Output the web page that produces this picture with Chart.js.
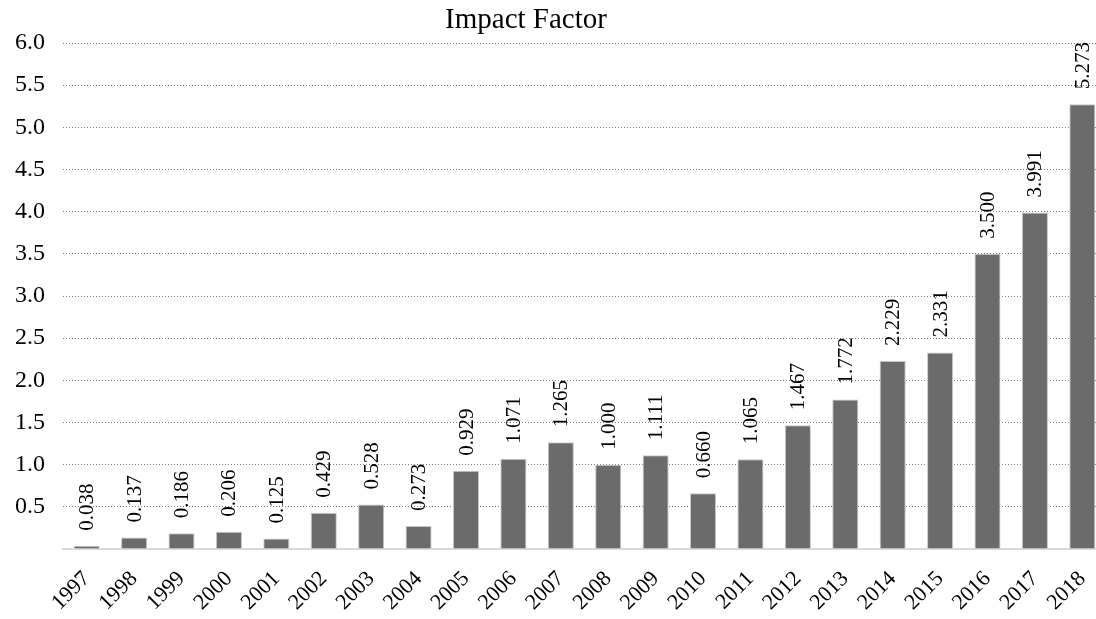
<!DOCTYPE html>
<html>
<head>
<meta charset="utf-8">
<title>Impact Factor</title>
<script src="https://cdn.jsdelivr.net/npm/chart.js@4/dist/chart.umd.min.js"></script>
<style>
  html, body { margin: 0; padding: 0; background: #ffffff; overflow: hidden; }
  #wrap { width: 1110px; height: 619px; position: relative; }
</style>
</head>
<body>
<div id="wrap"><canvas id="chart"></canvas></div>
<script>
// Journal impact factor by year
const years = ['1997','1998','1999','2000','2001','2002','2003','2004','2005','2006','2007',
               '2008','2009','2010','2011','2012','2013','2014','2015','2016','2017','2018'];
const impactFactor = [0.038, 0.137, 0.186, 0.206, 0.125, 0.429, 0.528, 0.273, 0.929, 1.071, 1.265,
                      1.000, 1.111, 0.660, 1.065, 1.467, 1.772, 2.229, 2.331, 3.500, 3.991, 5.273];
const yTicks = [0.5, 1.0, 1.5, 2.0, 2.5, 3.0, 3.5, 4.0, 4.5, 5.0, 5.5, 6.0];
const chartTitle = 'Impact Factor';

const SERIF = '"Liberation Serif", "Times New Roman", serif';

// Writes each value vertically just above its bar
const valueLabels = {
  id: 'valueLabels',
  afterDatasetsDraw(chart) {
    const ctx = chart.ctx;
    const meta = chart.getDatasetMeta(0);
    ctx.save();
    ctx.font = '21px ' + SERIF;
    ctx.fillStyle = '#000000';
    ctx.textAlign = 'left';
    ctx.textBaseline = 'middle';
    meta.data.forEach((bar, i) => {
      const v = chart.data.datasets[0].data[i];
      ctx.save();
      ctx.translate(bar.x, bar.y - 15);
      ctx.rotate(-Math.PI / 2);
      ctx.fillText(v.toFixed(3), 0, 1);
      ctx.restore();
    });
    ctx.restore();
  }
};

// Chart heading, centred a little left of the plot centre
const heading = {
  id: 'heading',
  afterDraw(chart) {
    const ctx = chart.ctx;
    ctx.save();
    ctx.font = '29px ' + SERIF;
    ctx.fillStyle = '#000000';
    ctx.textAlign = 'center';
    ctx.textBaseline = 'alphabetic';
    ctx.fillText(chartTitle, 526, 28);
    ctx.restore();
  }
};

new Chart(document.getElementById('chart'), {
  type: 'bar',
  data: {
    labels: years,
    datasets: [{
      label: chartTitle,
      data: impactFactor,
      backgroundColor: '#6b6b6b',
      borderColor: '#c8c8c8',
      borderWidth: 1,
      barPercentage: 0.55,
      categoryPercentage: 1.0
    }]
  },
  options: {
    responsive: true,
    maintainAspectRatio: false,
    animation: false,
    layout: { padding: { top: 43, right: 0, bottom: 0, left: 0 } },
    plugins: {
      legend: { display: false },
      tooltip: { enabled: false },
      title: { display: false }
    },
    scales: {
      x: {
        grid: { display: false },
        border: { color: '#d9d9d9', width: 2 },
        ticks: {
          color: '#000000',
          font: { family: SERIF, size: 22 },
          minRotation: 45,
          maxRotation: 45,
          padding: 9
        },
        afterFit(scale) { scale.height = 70; }
      },
      y: {
        min: 0,
        max: 6,
        border: { display: false, dash: [1, 2] },
        grid: {
          color: (c) => (c.tick && c.tick.value === 0) ? 'rgba(0,0,0,0)' : '#7f7f7f',
          lineWidth: 1,
          drawTicks: false
        },
        afterBuildTicks(scale) {
          scale.ticks = [0].concat(yTicks).map(v => ({ value: v }));
        },
        ticks: {
          color: '#000000',
          font: { family: SERIF, size: 24 },
          padding: 18,
          callback: (v) => v === 0 ? '' : Number(v).toFixed(1)
        },
        afterFit(scale) { scale.width = 63; }
      }
    }
  },
  plugins: [valueLabels, heading]
});
</script>
</body>
</html>
